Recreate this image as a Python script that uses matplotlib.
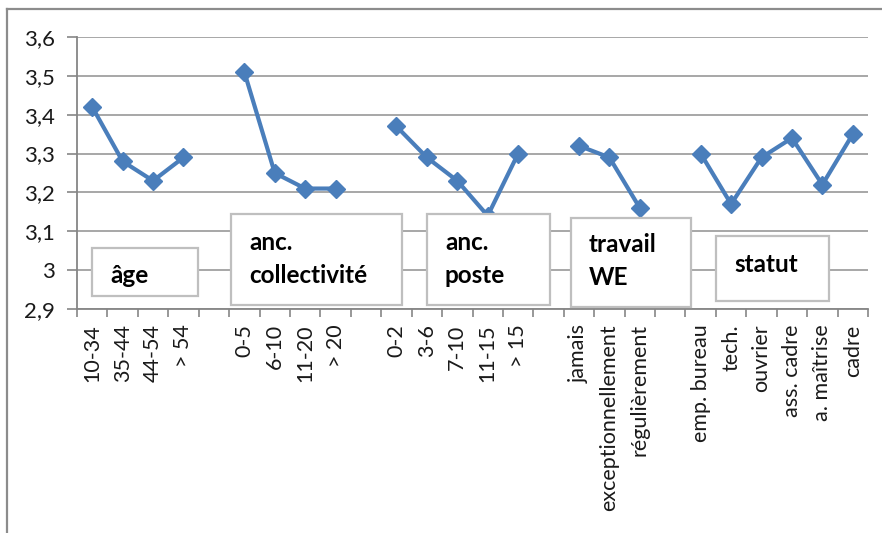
import matplotlib
matplotlib.use("Agg")
import matplotlib.pyplot as plt
import numpy as np
from matplotlib.patches import Rectangle
from matplotlib.lines import Line2D

# ---- data ----
group_names = ["âge", "anc.\ncollectivité", "anc.\nposte", "travail\nWE", "statut"]
age_cats = ["10-34", "35-44", "44-54", "> 54"]
age_vals = [3.42, 3.28, 3.23, 3.29]
coll_cats = ["0-5", "6-10", "11-20", "> 20"]
coll_vals = [3.51, 3.25, 3.21, 3.21]
poste_cats = ["0-2", "3-6", "7-10", "11-15", "> 15"]
poste_vals = [3.37, 3.29, 3.23, 3.14, 3.30]
we_cats = ["jamais", "exceptionnellement", "régulièrement"]
we_vals = [3.32, 3.29, 3.16]
statut_cats = ["emp. bureau", "tech.", "ouvrier", "ass. cadre", "a. maîtrise", "cadre"]
statut_vals = [3.30, 3.17, 3.29, 3.34, 3.22, 3.35]
y_ticks = [2.9, 3.0, 3.1, 3.2, 3.3, 3.4, 3.5, 3.6]
y_tick_labels = ["2,9", "3", "3,1", "3,2", "3,3", "3,4", "3,5", "3,6"]

groups = [(age_cats, age_vals), (coll_cats, coll_vals), (poste_cats, poste_vals),
          (we_cats, we_vals), (statut_cats, statut_vals)]

# ---- figure ----
W, H = 882, 533
fig = plt.figure(figsize=(W / 100, H / 100), dpi=100)
plt.rcParams['font.family'] = ['Lato', 'DejaVu Sans']

def fx(px):
    return px / W

def fy(py):
    return 1 - py / H

ax = fig.add_axes([fx(77), fy(309), fx(868) - fx(77), fy(37) - fy(309)])

line_color = "#4A7EBB"
grid_color = "#A0A0A0"
axis_color = "#868686"

labels = []
positions = []
pos = 0
for i, (cats, vals) in enumerate(groups):
    xs = np.arange(pos, pos + len(cats))
    ax.plot(xs, vals, color=line_color, lw=3.0, marker="D", markersize=9.5,
            markerfacecolor=line_color, markeredgecolor=line_color, zorder=3,
            clip_on=False)
    positions.extend(xs.tolist())
    labels.extend(cats)
    pos += len(cats)
    if i < len(groups) - 1:
        positions.append(pos)
        labels.append("")
        pos += 1
n = pos

ax.set_xlim(-0.5, n - 0.5)
ax.set_ylim(2.9, 3.6)
ax.set_yticks(y_ticks)
ax.set_yticklabels(y_tick_labels, fontsize=16, color="#1a1a1a")
ax.yaxis.grid(True, color=grid_color, lw=1.3, zorder=0)
ax.set_axisbelow(True)

ax.set_xticks(positions)
ax.set_xticklabels(labels, rotation=90, fontsize=15.5, color="#1a1a1a",
                   va="top", ha="center")
ax.set_xticks(np.arange(-0.5, n, 1), minor=True)
ax.tick_params(axis="x", which="major", length=0, pad=11)
ax.tick_params(axis="x", which="minor", length=6, color=axis_color, width=1.2)
ax.tick_params(axis="y", length=7, color=axis_color, width=1.2, pad=9)

for s in ["top", "right"]:
    ax.spines[s].set_visible(False)
for s in ["left", "bottom"]:
    ax.spines[s].set_color(axis_color)
    ax.spines[s].set_linewidth(1.3)

# ---- group label boxes (pixel layout) ----
boxes = [
    (92, 248, 198, 296, 110, 283),
    (231, 214, 402, 305, 249, 250),
    (427, 214, 550, 305, 445, 250),
    (571, 218, 691, 307, 589, 252),
    (716, 236, 829, 301, 734, 272),
]
for name, (x0, y0, x1, y1, tx, tb) in zip(group_names, boxes):
    rect = Rectangle((fx(x0), fy(y1)), fx(x1) - fx(x0), fy(y0) - fy(y1),
                     transform=fig.transFigure, facecolor="white",
                     edgecolor="#BFBFBF", lw=1.6, zorder=5)
    fig.patches.append(rect)
    for k, ln in enumerate(name.split("\n")):
        fig.text(fx(tx), fy(tb + 33 * k), ln, fontsize=17.5, fontweight="bold",
                 ha="left", va="baseline", zorder=6, color="black")

# ---- outer frame (top and left edges) ----
fig.lines.append(Line2D([fx(7), 1.0], [fy(9), fy(9)], transform=fig.transFigure,
                        color="#8C8C8C", lw=1.6))
fig.lines.append(Line2D([fx(7), fx(7)], [fy(9), 0.0], transform=fig.transFigure,
                        color="#8C8C8C", lw=1.6))

fig.savefig("out.png", dpi=100)
